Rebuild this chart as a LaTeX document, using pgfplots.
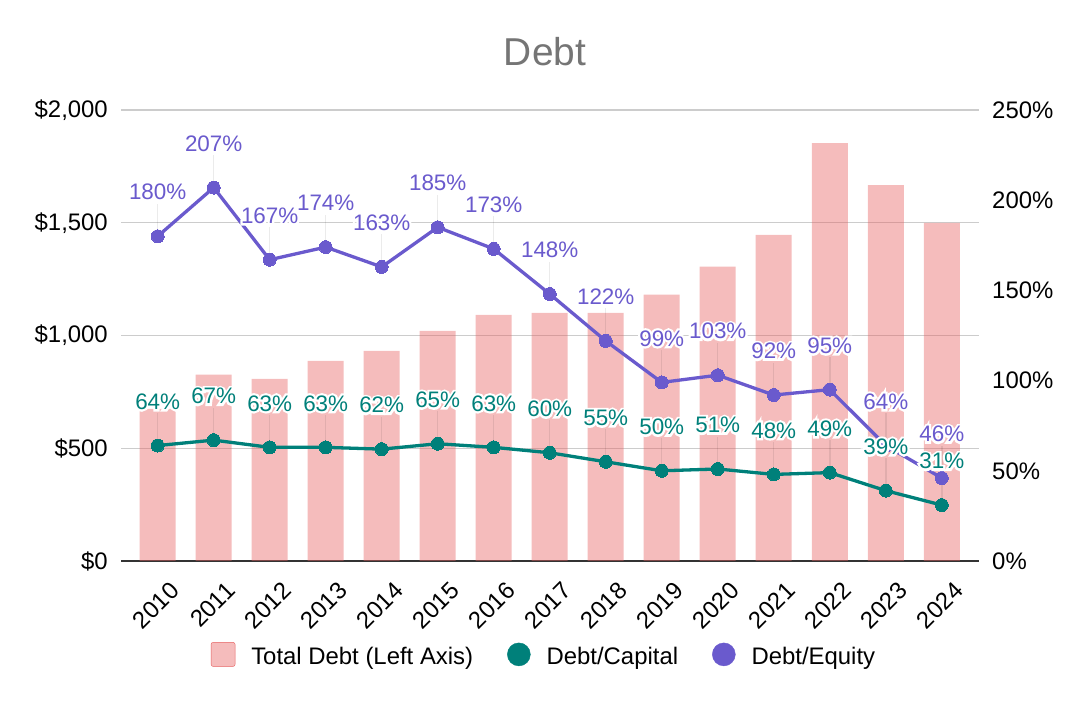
\documentclass[border=0pt]{standalone}
\usepackage{pgfplots}
\pgfplotsset{compat=1.18}
\usepackage{pgfplotstable}
\usepackage{fontspec}
\setmainfont{Liberation Sans}
\newfontfamily\halofont[FakeBold=20]{Liberation Sans}
\definecolor{barc}{RGB}{230,95,95}
\definecolor{tealc}{RGB}{0,128,122}
\definecolor{purplec}{RGB}{106,90,205}
\definecolor{gridc}{RGB}{204,204,204}
\definecolor{titlec}{RGB}{117,117,117}
\definecolor{basec}{RGB}{51,51,51}

\pgfplotstableread{
x debt dc de
0 675 64 180
1 826 67 207
2 808 63 167
3 888 63 174
4 932 62 163
5 1021 65 185
6 1092 63 173
7 1100 60 148
8 1100 55 122
9 1181 50 99
10 1305 51 103
11 1446 48 92
12 1853 49 95
13 1667 39 64
14 1499 31 46
}\datatable

\newcommand{\fs}{\fontsize{24}{28}\selectfont}
\newcommand{\fsd}{\fontsize{22.5}{27}\selectfont}
\newcommand{\halo}[1]{\rlap{\halofont\color{white}#1}#1}

\begin{document}
\begin{tikzpicture}
\path[use as bounding box] (0,0) rectangle (1088bp,702bp);
\node[font=\fontsize{39}{44}\selectfont, text=titlec] at (545bp,650bp) {Debt};
\begin{axis}[
  at={(121bp,141bp)}, anchor=south west,
  scale only axis, width=858bp, height=451bp,
  xmin=-0.655, xmax=14.665, ymin=0, ymax=2000,
  axis x line*=bottom, axis y line*=left,
  y axis line style={draw=none},
  x axis line style={draw=basec, line width=1.6bp, -},
  ytick={0,500,1000,1500,2000},
  yticklabels={\$0,\$500,{\$1,000},{\$1,500},{\$2,000}},
  ymajorgrids, grid style={gridc, line width=1.4bp},
  major tick length=0, tick style={draw=none},
  xtick={0,1,2,3,4,5,6,7,8,9,10,11,12,13,14},
  xticklabels={2010,2011,2012,2013,2014,2015,2016,2017,2018,2019,2020,2021,2022,2023,2024},
  tick label style={font=\fs, inner sep=0pt},
  yticklabel style={xshift=-13bp},
  xticklabel style={rotate=45, anchor=north east, xshift=-6bp, yshift=-21.5bp},
]
\addplot[ybar, bar width=36bp, fill=barc, fill opacity=0.42, draw=none] table[x=x,y=debt]{\datatable};
\end{axis}
\begin{axis}[
  at={(121bp,141bp)}, anchor=south west,
  scale only axis, width=858bp, height=451bp,
  xmin=-0.655, xmax=14.665, ymin=0, ymax=250,
  axis x line=none, axis y line*=right,
  y axis line style={draw=none},
  ytick={0,50,100,150,200,250},
  yticklabels={0\%,50\%,100\%,150\%,200\%,250\%},
  major tick length=0, tick style={draw=none},
  tick label style={font=\fs, inner sep=0pt},
  yticklabel style={xshift=13bp},
  /pgf/number format/assume math mode=true,
  legend columns=3,
  legend style={at={(axis description cs:0.493,-0.2084)}, anchor=center,
    draw=none, fill=none, font=\fs, inner sep=0pt,
    /tikz/every odd column/.append style={column sep=14bp},
    /tikz/every even column/.append style={column sep=32bp}},
  legend cell align=left,
]
\addlegendimage{legend image code/.code={\fill[barc, fill opacity=0.42, rounded corners=2bp] (0bp,-10bp) rectangle (24bp,14bp);}}
\addlegendentry{Total Debt (Left Axis)}
\addlegendimage{legend image code/.code={\fill[tealc] (12bp,2bp) circle (11.5bp);}}
\addlegendentry{Debt/Capital}
\addlegendimage{legend image code/.code={\fill[purplec] (12bp,2bp) circle (11.5bp);}}
\addlegendentry{Debt/Equity}
% Debt/Equity
\addplot[forget plot, purplec, line width=3.3bp, mark=*, mark size=6.5bp,
  mark options={draw=purplec, fill=purplec, line width=0pt},
  error bars/.cd, y dir=plus, y fixed=18,
  error bar style={line width=1.5bp, draw=black, draw opacity=0.08}, error mark=none]
  table[x=x,y=de]{\datatable};
\addplot[forget plot, draw=none, mark=none,
  nodes near coords={\halo{\pgfmathprintnumber{\pgfplotspointmeta}\%}},
  every node near coord/.append style={anchor=center, yshift=44bp, font=\fsd, text=purplec, inner sep=0pt}]
  table[x=x,y=de]{\datatable};
% Debt/Capital
\addplot[forget plot, tealc, line width=3.3bp, mark=*, mark size=6.5bp,
  mark options={draw=tealc, fill=tealc, line width=0pt},
  error bars/.cd, y dir=plus, y fixed=18,
  error bar style={line width=1.5bp, draw=black, draw opacity=0.08}, error mark=none]
  table[x=x,y=dc]{\datatable};
\addplot[forget plot, draw=none, mark=none,
  nodes near coords={\halo{\pgfmathprintnumber{\pgfplotspointmeta}\%}},
  every node near coord/.append style={anchor=center, yshift=44bp, font=\fsd, text=tealc, inner sep=0pt}]
  table[x=x,y=dc]{\datatable};
\end{axis}
\end{tikzpicture}
\end{document}
